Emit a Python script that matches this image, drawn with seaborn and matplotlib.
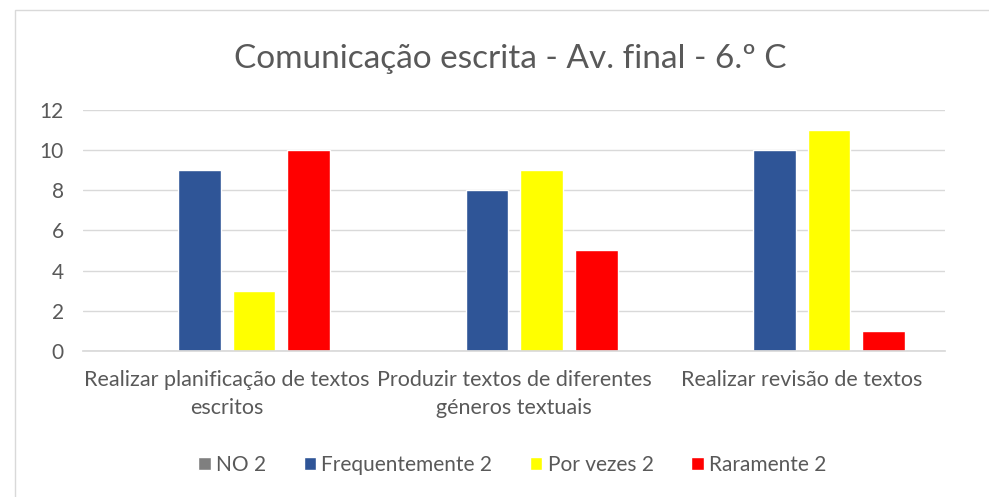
import matplotlib
matplotlib.use("Agg")
import matplotlib.pyplot as plt
import seaborn as sns
import pandas as pd
from matplotlib.patches import Rectangle

categories = ["Realizar planificação de textos\nescritos",
              "Produzir textos de diferentes\ngéneros textuais",
              "Realizar revisão de textos"]
series = ["NO 2", "Frequentemente 2", "Por vezes 2", "Raramente 2"]
no2 = [0, 0, 0]
frequentemente2 = [9, 8, 10]
por_vezes2 = [3, 9, 11]
raramente2 = [10, 5, 1]
colors = ["#7F7F7F", "#2F5597", "#FFFF00", "#FF0000"]
yticks = [0, 2, 4, 6, 8, 10, 12]

rows = []
for s, vals in zip(series, [no2, frequentemente2, por_vezes2, raramente2]):
    for c, v in zip(categories, vals):
        rows.append({"cat": c, "serie": s, "val": v})
df = pd.DataFrame(rows)

sns.set_theme(style="white")
plt.rcParams["font.family"] = ["Lato", "DejaVu Sans"]
txt = "#595959"

fig = plt.figure(figsize=(9.89, 4.97), dpi=100)
ax = fig.add_axes([0.084, 0.294, 0.872, 0.485])
sns.barplot(data=df, x="cat", y="val", hue="serie", palette=colors,
            hue_order=series, order=categories, width=0.76, gap=0.22,
            ax=ax, legend=True, saturation=1)
ax.set_ylim(0, 12)
ax.set_xlim(-0.5, 2.5)
ax.set_yticks(yticks)
ax.set_yticklabels([str(t) for t in yticks], fontsize=15, color=txt)
ax.tick_params(axis="x", labelsize=15.5, colors=txt, length=0, pad=14)
ax.tick_params(axis="y", length=0, pad=14)
for lab in ax.get_xticklabels():
    lab.set_color(txt)
    lab.set_linespacing(1.5)
ax.set_xlabel("")
ax.set_ylabel("")
ax.grid(axis="y", color="#D9D9D9", linewidth=1)
ax.set_axisbelow(True)
for s in ["left", "right", "top"]:
    ax.spines[s].set_visible(False)
ax.spines["bottom"].set_color("#D9D9D9")

handles, labels = ax.get_legend_handles_labels()
ax.legend_.remove()
fig.legend(handles, labels, loc="center", bbox_to_anchor=(0.518, 0.064), ncol=4,
           frameon=False, fontsize=15, labelcolor=txt, handlelength=0.6,
           handleheight=0.6, handletextpad=0.25, columnspacing=1.8)

fig.text(0.516, 0.882, "Comunicação escrita - Av. final - 6.º C", ha="center",
         va="center", fontsize=24, color=txt)

fig.patches.append(Rectangle((15 / 989, -0.01), 1.0, 1 - 10 / 497 + 0.01,
                             transform=fig.transFigure, fill=False,
                             edgecolor="#D9D9D9", linewidth=1))
fig.savefig("out.png", dpi=100, facecolor="white")
